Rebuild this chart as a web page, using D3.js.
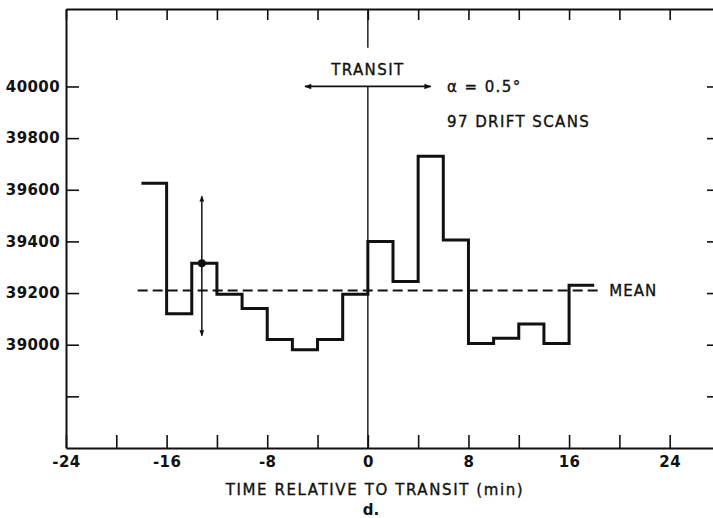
<!DOCTYPE html>
<html>
<head>
<meta charset="utf-8">
<script src="https://cdn.jsdelivr.net/npm/d3@7"></script>
<style>
  body { margin: 0; background: #fff; }
  text { font-family: "DejaVu Sans", sans-serif; fill: #111; }
  .lbl { font-size: 15px; letter-spacing: 1.4px; stroke: #111; stroke-width: 0.35px; }
</style>
</head>
<body>
<div id="chart"></div>
<script>
// bins are 2 min wide, starting at these times
const binStarts = [-18, -16, -14, -12, -10, -8, -6, -4, -2, 0, 2, 4, 6, 8, 10, 12, 14, 16];
const binWidth = 2;
const counts = [39625, 39120, 39315, 39195, 39140, 39020, 38980, 39020, 39195,
                39400, 39245, 39730, 39405, 39005, 39025, 39080, 39005, 39230];
const meanValue = 39210;
const meanRange = [-18.3, 18.4];
const errorBar = { t: -13.2, value: 39315, lo: 39035, hi: 39575 };
const transitArrow = { from: -5, to: 5, value: 40000 };
const xTicks = d3.range(-24, 29, 4);
const xLabels = [-24, -16, -8, 0, 8, 16, 24];
const yTicks = [38800, 39000, 39200, 39400, 39600, 39800, 40000];

const width = 713, height = 518;

const svg = d3.select('#chart').append('svg')
    .attr('width', width)
    .attr('height', height);

const x = d3.scaleLinear().domain([-24, 28]).range([66, 720]);
const y = d3.scaleLinear().domain([38600, 40300]).range([448, 9]);

const defs = svg.append('defs');
defs.append('marker')
    .attr('id', 'head')
    .attr('viewBox', '0 0 10 10')
    .attr('refX', 9).attr('refY', 5)
    .attr('markerWidth', 12).attr('markerHeight', 7)
    .attr('markerUnits', 'userSpaceOnUse')
    .attr('orient', 'auto-start-reverse')
    .append('path')
    .attr('d', 'M0,1L10,5L0,9Z')
    .attr('fill', '#111');
defs.append('marker')
    .attr('id', 'small')
    .attr('viewBox', '0 0 10 10')
    .attr('refX', 9).attr('refY', 5)
    .attr('markerWidth', 10).attr('markerHeight', 6)
    .attr('markerUnits', 'userSpaceOnUse')
    .attr('orient', 'auto')
    .append('path')
    .attr('d', 'M0,1L10,5L0,9Z')
    .attr('fill', '#111');

function styleAxis(g) {
    g.select('.domain').attr('stroke', '#111').attr('stroke-width', 2);
    g.selectAll('.tick line').attr('stroke', '#111').attr('stroke-width', 1.6);
    g.selectAll('.tick text')
        .style('font-size', '15px')
        .style('font-weight', 'bold')
        .style('letter-spacing', '0.4px');
}

// bottom
svg.append('g')
    .attr('transform', `translate(0,${y.range()[0]})`)
    .call(d3.axisBottom(x).tickValues(xTicks).tickSizeInner(-13).tickSizeOuter(0).tickPadding(8)
        .tickFormat(d => xLabels.includes(d) ? String(d).replace('−', '-') : ''))
    .call(styleAxis);

// top
svg.append('g')
    .attr('transform', `translate(0,${y.range()[1]})`)
    .call(d3.axisTop(x).tickValues(xTicks).tickSizeInner(-11).tickSizeOuter(0).tickFormat(''))
    .call(styleAxis);

// left
svg.append('g')
    .attr('transform', `translate(${x.range()[0]},0)`)
    .call(d3.axisLeft(y).tickValues(yTicks).tickSizeInner(-13).tickSizeOuter(0).tickPadding(6)
        .tickFormat(d => d === 38800 ? '' : d))
    .call(styleAxis);

// right
svg.append('g')
    .attr('transform', `translate(${x.range()[1]},0)`)
    .call(d3.axisRight(y).tickValues(yTicks).tickSizeInner(-13).tickSizeOuter(0).tickFormat(''))
    .call(styleAxis);

// transit line (gap behind the label)
svg.append('line')
    .attr('x1', x(0)).attr('x2', x(0))
    .attr('y1', y(40300)).attr('y2', y(40150))
    .attr('stroke', '#111').attr('stroke-width', 1.4);
svg.append('line')
    .attr('x1', x(0)).attr('x2', x(0))
    .attr('y1', y(transitArrow.value)).attr('y2', y(38600))
    .attr('stroke', '#111').attr('stroke-width', 1.4);

// transit arrow
svg.append('line')
    .attr('x1', x(transitArrow.from)).attr('x2', x(transitArrow.to))
    .attr('y1', y(transitArrow.value)).attr('y2', y(transitArrow.value))
    .attr('stroke', '#111').attr('stroke-width', 1.8)
    .attr('marker-start', 'url(#head)')
    .attr('marker-end', 'url(#head)');

svg.append('text')
    .attr('class', 'lbl')
    .attr('x', x(0)).attr('y', y(transitArrow.value) - 11)
    .attr('text-anchor', 'middle')
    .text('TRANSIT');

svg.append('text')
    .attr('class', 'lbl')
    .attr('x', x(6.3)).attr('y', y(39977))
    .text('α = 0.5°');
svg.append('text')
    .attr('class', 'lbl')
    .attr('x', x(6.3)).attr('y', y(39842))
    .text('97 DRIFT SCANS');

// mean
svg.append('line')
    .attr('x1', x(meanRange[0])).attr('x2', x(meanRange[1]))
    .attr('y1', y(meanValue)).attr('y2', y(meanValue))
    .attr('stroke', '#111').attr('stroke-width', 1.8)
    .attr('stroke-dasharray', '10,5');
svg.append('text')
    .attr('class', 'lbl')
    .attr('x', x(19.2)).attr('y', y(meanValue))
    .attr('dy', '0.38em')
    .style('letter-spacing', '1px')
    .text('MEAN');

// step histogram
const points = binStarts.map((t, i) => [t, counts[i]]);
points.push([binStarts[binStarts.length - 1] + binWidth, counts[counts.length - 1]]);

const step = d3.line()
    .x(d => x(d[0]))
    .y(d => y(d[1]))
    .curve(d3.curveStepAfter);

svg.append('path')
    .datum(points)
    .attr('d', step)
    .attr('fill', 'none')
    .attr('stroke', '#111')
    .attr('stroke-width', 3);

// error bar
svg.append('line')
    .attr('x1', x(errorBar.t)).attr('x2', x(errorBar.t))
    .attr('y1', y(errorBar.value)).attr('y2', y(errorBar.hi))
    .attr('stroke', '#111').attr('stroke-width', 1.5)
    .attr('marker-end', 'url(#small)');
svg.append('line')
    .attr('x1', x(errorBar.t)).attr('x2', x(errorBar.t))
    .attr('y1', y(errorBar.value)).attr('y2', y(errorBar.lo))
    .attr('stroke', '#111').attr('stroke-width', 1.5)
    .attr('marker-end', 'url(#small)');
svg.append('circle')
    .attr('cx', x(errorBar.t)).attr('cy', y(errorBar.value))
    .attr('r', 4)
    .attr('fill', '#111');

// axis title
svg.append('text')
    .attr('class', 'lbl')
    .attr('x', 375).attr('y', 495)
    .attr('text-anchor', 'middle')
    .style('letter-spacing', '1.6px')
    .text('TIME RELATIVE TO TRANSIT (min)');
svg.append('text')
    .attr('x', 371).attr('y', 515)
    .attr('text-anchor', 'middle')
    .style('font-size', '15px')
    .style('font-weight', 'bold')
    .text('d.');
</script>
</body>
</html>
